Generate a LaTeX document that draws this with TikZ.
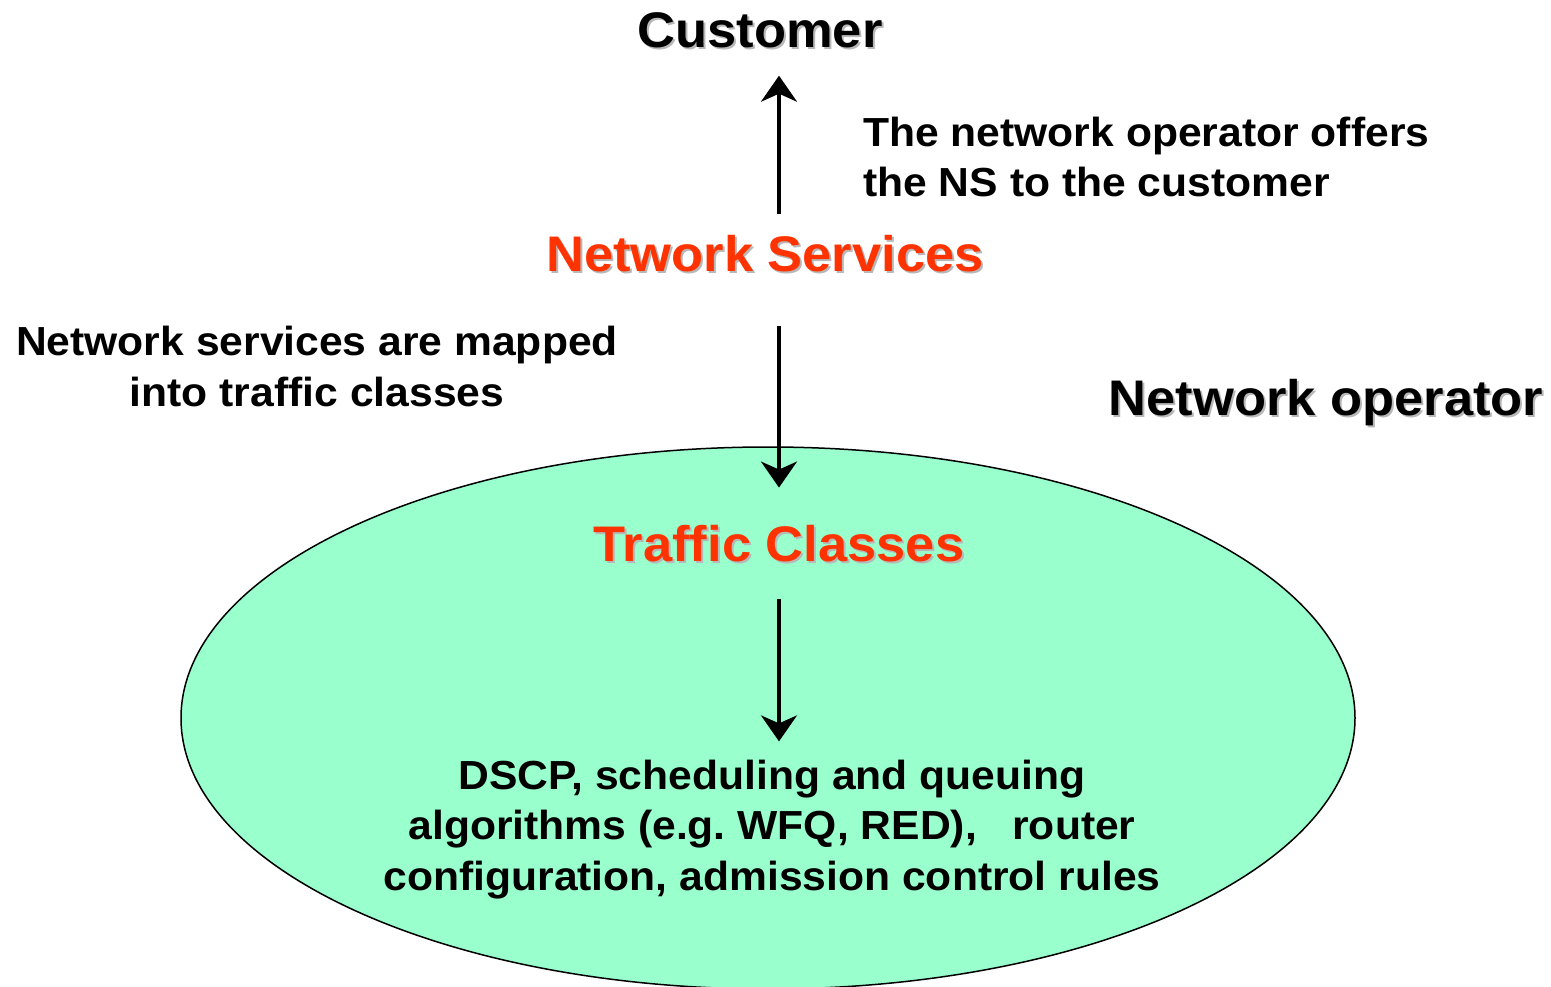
\documentclass[tikz,border=0pt]{standalone}
\usepackage{fontspec}
\setmainfont{Liberation Sans}[FakeStretch=1.05]
\usetikzlibrary{arrows.meta}
\definecolor{mint}{HTML}{99FFCC}
\definecolor{nsred}{HTML}{FF3300}
\newcommand\schatten[1]{\rlap{\kern2pt\raisebox{-2pt}{\color{black!28}#1}}#1}

\begin{document}
\begin{tikzpicture}[x=1pt,y=-1pt,
  titel/.style={anchor=base,inner sep=0pt,font=\fontsize{50}{60}\selectfont\bfseries},
  tekst/.style={anchor=base,inner sep=0pt,font=\fontsize{40.6}{50.5}\selectfont\bfseries},
  pijl/.style={-{Stealth[length=26pt,width=36pt,inset=8pt]},line width=3.2pt}]
\useasboundingbox (0,0) rectangle (1551,987);
\draw[line width=1.5pt,fill=mint] (768,718) ellipse [x radius=587pt,y radius=271pt];
\node[titel] (cust) at (760,48) {\schatten{Customer}};
\node[titel,text=nsred] (ns) at (765,272) {\schatten{Network Services}};
\node[titel] (op) at (1326,415) {\schatten{Network operator}};
\node[titel,text=nsred] (tc) at (779,561) {\schatten{Traffic Classes}};
\node[tekst,anchor=base west,align=left] (offer) at (863,197) {The network operator offers\\the NS to the customer};
\node[tekst,align=center] (map) at (317,406) {Network services are mapped\\into traffic classes};
\node[tekst,align=center] (rules) at (772,890) {DSCP, scheduling and queuing\\algorithms (e.g.\ WFQ, RED), \ \ router\\configuration, admission control rules};
\draw[pijl,shorten <=22pt,shorten >=25pt] (ns.north -| tc) -- (cust.south -| tc);
\draw[pijl,shorten <=51pt,shorten >=37pt] (ns.south -| tc) -- (tc.north);
\draw[pijl,shorten <=35pt,shorten >=18pt] (tc.south) -- (rules.north -| tc);
\end{tikzpicture}
\end{document}
